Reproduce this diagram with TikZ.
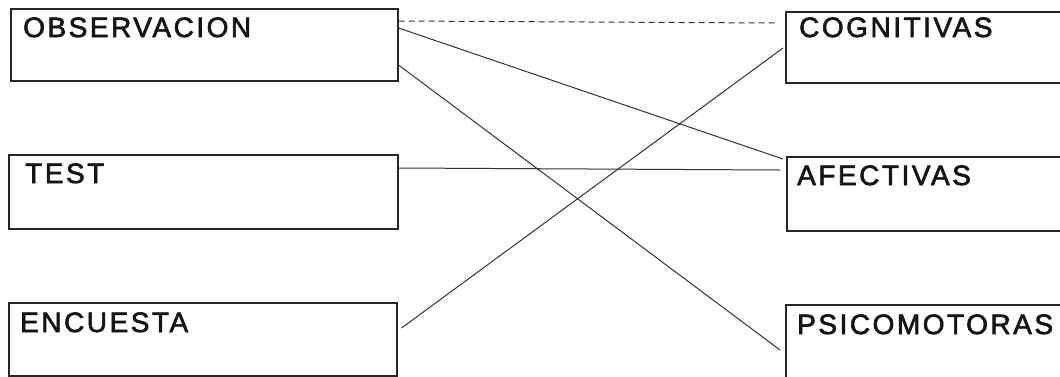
\documentclass[tikz,border=0pt]{standalone}
\usepackage{fontspec}
\setmainfont{Liberation Sans}
\newfontfamily\boxfont[LetterSpace=9,FakeBold=2.2]{Liberation Sans}
\usetikzlibrary{calc}
\tikzset{
  box/.style={draw=black!85, line width=1.5pt, rectangle, inner sep=0pt, anchor=north west},
  lbl/.style={anchor=base west, inner sep=0pt, font=\boxfont\fontsize{28}{30}\selectfont, text=black!92},
  link/.style={draw=black!80, line width=1pt},
  dlink/.style={link, dash pattern=on 6pt off 4pt}
}
\begin{document}
\begin{tikzpicture}[x=1pt,y=-1pt]
\useasboundingbox (0,0) rectangle (1060,376);
\clip (0,0) rectangle (1060,376);
\fill[white] (0,0) rectangle (1060,376);
% left boxes
\node[box, minimum width=387pt, minimum height=72pt] (obs) at (10,8) {};
\node[box, minimum width=389pt, minimum height=74pt] (test) at (8,154) {};
\node[box, minimum width=388pt, minimum height=73pt] (enc) at (8,302) {};
% right boxes
\node[box, minimum width=300pt, minimum height=71pt] (cog) at (785,11) {};
\node[box, minimum width=300pt, minimum height=74pt] (afe) at (786,156) {};
\node[box, minimum width=300pt, minimum height=90pt] (psi) at (785,304) {};
% labels
\node[lbl] (tobs) at (23,37) {OBSERVACION};
\node[lbl] (ttest) at (25,183) {TEST};
\node[lbl] (tenc) at (20,332) {ENCUESTA};
\node[lbl] (tcog) at (799,37) {COGNITIVAS};
\node[lbl] (tafe) at (797,185) {AFECTIVAS};
\node[lbl] (tpsi) at (797,334) {PSICOMOTORAS};
% connection points
\coordinate (o1) at ($(obs.north east)+(0,13)$);
\coordinate (o2) at ($(obs.north east)+(0,20)$);
\coordinate (o3) at ($(obs.north east)+(0,57)$);
\coordinate (t1) at ($(test.north east)+(0,14)$);
\coordinate (e1) at ($(enc.north east)+(4,26)$);
\coordinate (c1) at ($(cog.north west)+(-10,12)$);
\coordinate (c2) at ($(cog.north west)+(-2,37)$);
\coordinate (a1) at ($(afe.north west)+(-3,3)$);
\coordinate (a2) at ($(afe.north west)+(-6,14)$);
\coordinate (p1) at ($(psi.north west)+(-5,46)$);
% connectors
\draw[dlink] (o1) -- (c1);
\draw[link] (o2) -- (a1);
\draw[link] (o3) -- (p1);
\draw[link] (t1) -- (a2);
\draw[link] (e1) -- (c2);
\end{tikzpicture}
\end{document}
